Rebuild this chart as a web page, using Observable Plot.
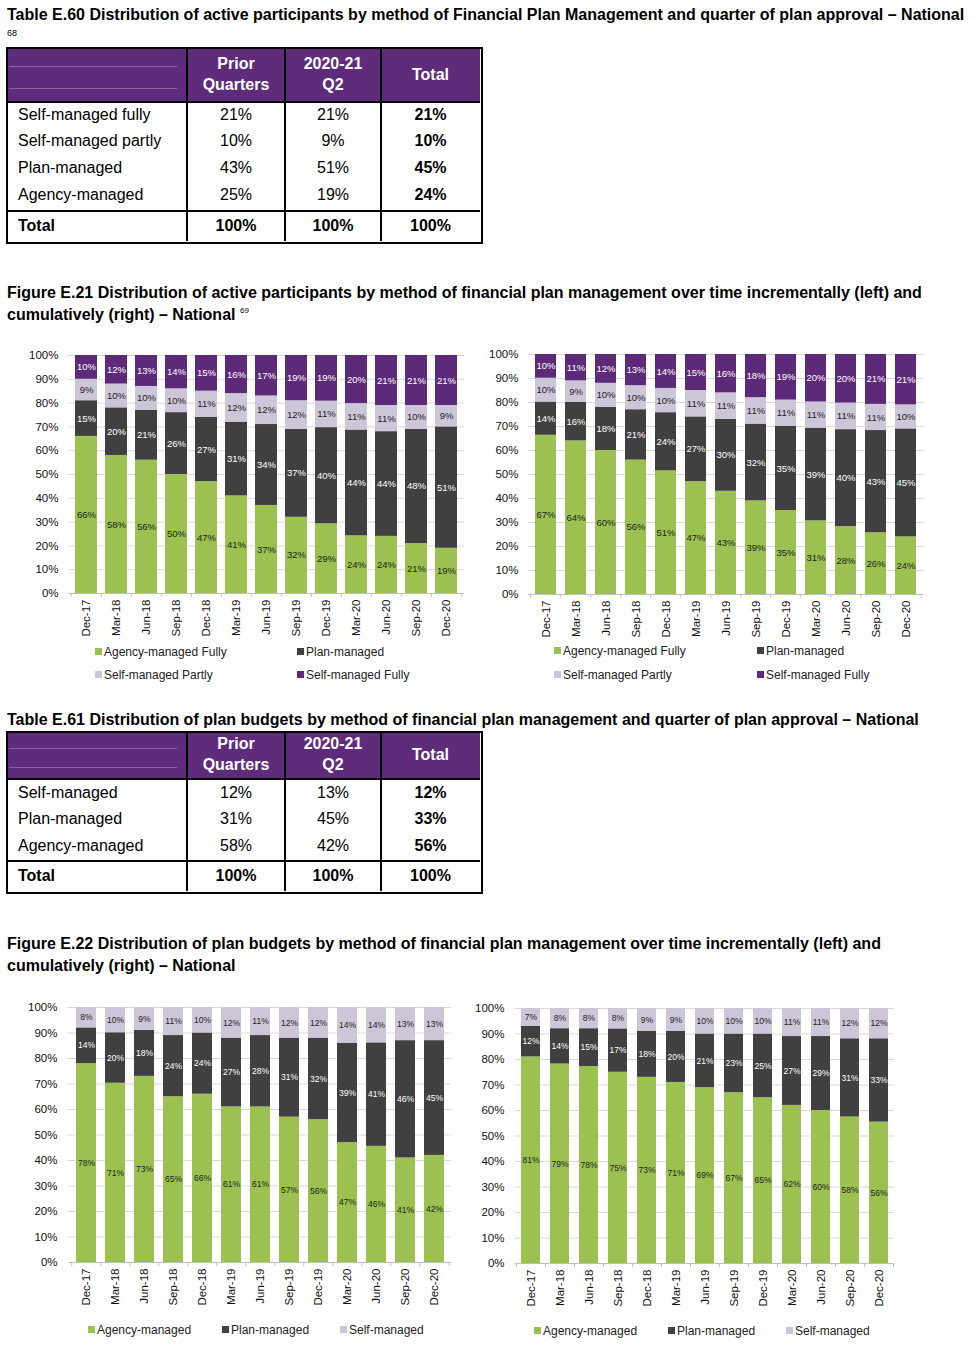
<!DOCTYPE html>
<html>
<head>
<meta charset="utf-8">
<script src="https://cdn.jsdelivr.net/npm/d3@7"></script>
<script src="https://cdn.jsdelivr.net/npm/@observablehq/plot@0.6"></script>
<style>
  html, body { margin: 0; padding: 0; background: #fff; }
  body { width: 973px; height: 1359px; position: relative; overflow: hidden; font-family: "Liberation Sans", Arial, sans-serif; color: #000; }
  .abs { position: absolute; }
  .title { position: absolute; left: 7px; font-weight: bold; font-size: 16px; white-space: nowrap; line-height: 22px; }
  .cell { position: absolute; white-space: nowrap; font-size: 16px; line-height: 18px; transform: translateY(-50%); }
  .hline, .vline { position: absolute; background: #000; }
  .legend { position: absolute; font-size: 12px; color: #222; white-space: nowrap; line-height: 14px; }
  .sw { display: inline-block; width: 7px; height: 7px; margin-right: 2px; vertical-align: 1px; }
  sup.fn { font-size: 8px; font-weight: normal; position: relative; top: -7px; vertical-align: baseline; line-height: 0; }
</style>
</head>
<body>
<div id="page"></div>
<script>
// ---------- Data ----------
const quarters = ["Dec-17","Mar-18","Jun-18","Sep-18","Dec-18","Mar-19","Jun-19","Sep-19","Dec-19","Mar-20","Jun-20","Sep-20","Dec-20"];

// Table E.60
const e60Rows = ["Self-managed fully","Self-managed partly","Plan-managed","Agency-managed"];
const e60Prior = [21, 10, 43, 25];
const e60Q2 = [21, 9, 51, 19];
const e60Total = [21, 10, 45, 24];

// Table E.61
const e61Rows = ["Self-managed","Plan-managed","Agency-managed"];
const e61Prior = [12, 31, 58];
const e61Q2 = [13, 45, 42];
const e61Total = [12, 33, 56];

// Figure E.21 series (bottom to top)
const e21Series = ["Agency-managed Fully","Plan-managed","Self-managed Partly","Self-managed Fully"];
// incremental (left)
const e21IncAgency = [66,58,56,50,47,41,37,32,29,24,24,21,19];
const e21IncPlan   = [15,20,21,26,27,31,34,37,40,44,44,48,51];
const e21IncPartly = [9,10,10,10,11,12,12,12,11,11,11,10,9];
const e21IncFully  = [10,12,13,14,15,16,17,19,19,20,21,21,21];
// cumulative (right)
const e21CumAgency = [67,64,60,56,51,47,43,39,35,31,28,26,24];
const e21CumPlan   = [14,16,18,21,24,27,30,32,35,39,40,43,45];
const e21CumPartly = [10,9,10,10,10,11,11,11,11,11,11,11,10];
const e21CumFully  = [10,11,12,13,14,15,16,18,19,20,20,21,21];

// Figure E.22 series (bottom to top)
const e22Series = ["Agency-managed","Plan-managed","Self-managed"];
const e22IncAgency = [78,71,73,65,66,61,61,57,56,47,46,41,42];
const e22IncPlan   = [14,20,18,24,24,27,28,31,32,39,41,46,45];
const e22IncSelf   = [8,10,9,11,10,12,11,12,12,14,14,13,13];
const e22CumAgency = [81,79,78,75,73,71,69,67,65,62,60,58,56];
const e22CumPlan   = [12,14,15,17,18,20,21,23,25,27,29,31,33];
const e22CumSelf   = [7,8,8,8,9,9,10,10,10,11,11,12,12];

const yTicks = [0,0.1,0.2,0.3,0.4,0.5,0.6,0.7,0.8,0.9,1];

// ---------- Colours ----------
const GREEN = "#9bc150", DARK = "#404040", LAV = "#cdc5d8", PURPLE = "#5d2a79";
const HEAD = "#5f2b7b";

const page = document.getElementById("page");
function el(tag, cls, style, html) {
  const e = document.createElement(tag);
  if (cls) e.className = cls;
  Object.assign(e.style, style || {});
  if (html != null) e.innerHTML = html;
  page.appendChild(e);
  return e;
}

// ---------- Titles ----------
el("div", "title", {top: "4px"}, "Table E.60 Distribution of active participants by method of Financial Plan Management and quarter of plan approval – National");
el("div", "abs", {left: "7px", top: "28px", fontSize: "9px"}, "68");
el("div", "title", {top: "282px"}, "Figure E.21 Distribution of active participants by method of financial plan management over time incrementally (left) and<br>cumulatively (right) – National <sup class='fn'>69</sup>");
el("div", "title", {top: "709px"}, "Table E.61 Distribution of plan budgets by method of financial plan management and quarter of plan approval – National");
el("div", "title", {top: "933px"}, "Figure E.22 Distribution of plan budgets by method of financial plan management over time incrementally (left) and<br>cumulatively (right) – National");

// ---------- Tables ----------
const colX = [7, 187, 285, 381, 480];
const colC = [236, 333, 430.5];
function table(g, rows, prior, q2, total) {
  el("div", "abs", {left: colX[0]+"px", top: g.top+"px", width: (colX[4]-colX[0])+"px", height: (g.headBottom-g.top)+"px", background: HEAD});
  // faint inner header lines
  el("div", "abs", {left: (colX[0]+2)+"px", top: (g.top+(g.headBottom-g.top)*0.33)+"px", width: (colX[1]-colX[0]-12)+"px", height: "1px", background: "#8a64a0"});
  el("div", "abs", {left: (colX[0]+2)+"px", top: (g.top+(g.headBottom-g.top)*0.74)+"px", width: (colX[1]-colX[0]-12)+"px", height: "1px", background: "#8a64a0"});
  el("div", "abs", {left: (colX[0]-1)+"px", top: (g.top-1)+"px", width: (colX[4]-colX[0])+"px", height: (g.bottom-g.top)+"px", border: "2px solid #000"});
  for (let i = 1; i < 4; i++) el("div", "vline", {left: (colX[i]-1)+"px", top: g.top+"px", width: "2px", height: (g.bottom-g.top)+"px"});
  el("div", "hline", {left: colX[0]+"px", top: (g.headBottom-1)+"px", width: (colX[4]-colX[0])+"px", height: "2px"});
  el("div", "hline", {left: colX[0]+"px", top: (g.totalLine-1)+"px", width: (colX[4]-colX[0])+"px", height: "2px"});
  const hs = {color: "#fff", fontWeight: "bold", textAlign: "center", width: "90px", marginLeft: "-45px"};
  [["Prior", "Quarters"], ["2020-21", "Q2"]].forEach((lines, j) => {
    el("div", "cell", Object.assign({left: colC[j]+"px", top: g.h1+"px"}, hs), lines[0]);
    el("div", "cell", Object.assign({left: colC[j]+"px", top: g.h2+"px"}, hs), lines[1]);
  });
  el("div", "cell", Object.assign({left: colC[2]+"px", top: ((g.h1+g.h2)/2)+"px"}, hs), "Total");
  rows.forEach((r, i) => {
    const y = g.rowY[i];
    el("div", "cell", {left: "18px", top: y+"px"}, r);
    [prior[i], q2[i], total[i]].forEach((v, j) => {
      el("div", "cell", {left: colC[j]+"px", top: y+"px", width: "80px", marginLeft: "-40px", textAlign: "center", fontWeight: j === 2 ? "bold" : "normal"}, v + "%");
    });
  });
  el("div", "cell", {left: "18px", top: g.totalY+"px", fontWeight: "bold"}, "Total");
  for (let j = 0; j < 3; j++) el("div", "cell", {left: colC[j]+"px", top: g.totalY+"px", width: "80px", marginLeft: "-40px", textAlign: "center", fontWeight: "bold"}, "100%");
}
table({top: 48, headBottom: 102, bottom: 241, totalLine: 211, totalY: 226, h1: 64, h2: 85, rowY: [115, 141, 168, 195]}, e60Rows, e60Prior, e60Q2, e60Total);
table({top: 732, headBottom: 779, bottom: 891, totalLine: 861, totalY: 876, h1: 744, h2: 765, rowY: [793, 819, 846]}, e61Rows, e61Prior, e61Q2, e61Total);

// ---------- Charts ----------
function stackedChart(o) {
  const rows = [];
  quarters.forEach((q, i) => o.series.forEach((s, j) => rows.push({q, series: s, value: o.values[j][i]})));
  const whiteText = new Set(o.whiteSeries);
  const stackOpts = {x: "q", y: "value", z: "series", order: o.series, offset: "normalize"};
  const step = (o.width - o.ml - o.mr) / quarters.length;
  const chart = Plot.plot({
    width: o.width, height: o.height,
    marginLeft: o.ml, marginRight: o.mr, marginTop: o.mt, marginBottom: o.mb,
    style: {fontFamily: "'Liberation Sans', Arial, sans-serif", fontSize: "11.5px", color: "#111", background: "transparent"},
    x: {domain: quarters, paddingInner: o.padding, paddingOuter: o.padding / 2, label: null, tickRotate: -90, tickSize: 0, tickPadding: 6},
    y: {domain: [0, 1], ticks: yTicks, tickFormat: d => Math.round(d * 100) + "%", label: null, tickSize: 0, tickPadding: o.ypad},
    color: {domain: o.series, range: o.colors},
    marks: [
      Plot.ruleY(yTicks.slice(1), {stroke: "#d9d9d9", strokeWidth: 1}),
      Plot.barY(rows, Plot.stackY({...stackOpts, fill: "series"})),
      Plot.ruleY([0], {stroke: "#bfbfbf", strokeWidth: 1}),
      Plot.ruleX(quarters, {x: d => d, dx: -step / 2, y1: 0, y2: -0.016, stroke: "#bfbfbf"}),
      Plot.ruleX(quarters.slice(-1), {x: d => d, dx: step / 2, y1: 0, y2: -0.016, stroke: "#bfbfbf"}),
      Plot.text(rows, Plot.stackY({...stackOpts, text: d => whiteText.has(d.series) ? d.value + "%" : "", fill: "#fff", fontSize: o.labelSize})),
      Plot.text(rows, Plot.stackY({...stackOpts, text: d => whiteText.has(d.series) ? "" : d.value + "%", fill: "#1e1e1e", fontSize: o.labelSize}))
    ]
  });
  const wrap = el("div", "abs", {left: o.left + "px", top: o.top + "px"});
  wrap.appendChild(chart);
  o.legend.forEach(([name, x, y]) => {
    const c = o.colors[o.series.indexOf(name)];
    el("div", "legend", {left: x + "px", top: (y - 7) + "px"}, `<span class="sw" style="background:${c}"></span>${name}`);
  });
}

stackedChart({
  left: 0, top: 345, width: 475, height: 300, ml: 68, mr: 11, mt: 10, mb: 52, padding: 0.28, ypad: 10, labelSize: 9.5,
  series: e21Series, colors: [GREEN, DARK, LAV, PURPLE], whiteSeries: ["Plan-managed", "Self-managed Fully"],
  values: [e21IncAgency, e21IncPlan, e21IncPartly, e21IncFully],
  legend: [["Agency-managed Fully", 95, 652], ["Plan-managed", 297, 652], ["Self-managed Partly", 95, 675], ["Self-managed Fully", 297, 675]]
});
stackedChart({
  left: 480, top: 344, width: 450, height: 300, ml: 48, mr: 7, mt: 10, mb: 50, padding: 0.3, ypad: 10, labelSize: 9.5,
  series: e21Series, colors: [GREEN, DARK, LAV, PURPLE], whiteSeries: ["Plan-managed", "Self-managed Fully"],
  values: [e21CumAgency, e21CumPlan, e21CumPartly, e21CumFully],
  legend: [["Agency-managed Fully", 554, 651], ["Plan-managed", 757, 651], ["Self-managed Partly", 554, 675], ["Self-managed Fully", 757, 675]]
});
stackedChart({
  left: 0, top: 997, width: 460, height: 320, ml: 68, mr: 9, mt: 10, mb: 55, padding: 0.32, ypad: 11, labelSize: 8.5,
  series: e22Series, colors: [GREEN, DARK, LAV], whiteSeries: ["Plan-managed"],
  values: [e22IncAgency, e22IncPlan, e22IncSelf],
  legend: [["Agency-managed", 88, 1330], ["Plan-managed", 222, 1330], ["Self-managed", 340, 1330]]
});
stackedChart({
  left: 460, top: 998, width: 440, height: 320, ml: 55, mr: 6, mt: 10, mb: 55, padding: 0.33, ypad: 11, labelSize: 8.5,
  series: e22Series, colors: [GREEN, DARK, LAV], whiteSeries: ["Plan-managed"],
  values: [e22CumAgency, e22CumPlan, e22CumSelf],
  legend: [["Agency-managed", 534, 1331], ["Plan-managed", 668, 1331], ["Self-managed", 786, 1331]]
});
</script>
</body>
</html>
